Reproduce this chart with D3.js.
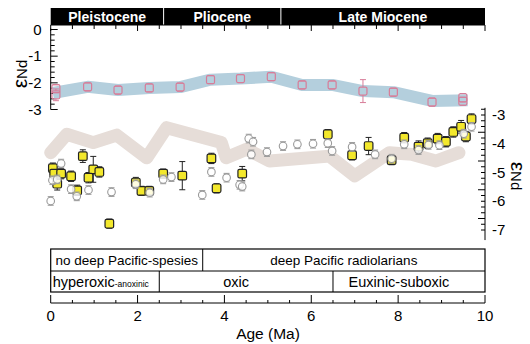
<!DOCTYPE html>
<html>
<head>
<meta charset="utf-8">
<script src="https://cdn.jsdelivr.net/npm/d3@7"></script>
<style>
  body { margin: 0; background: #fff; }
  svg text { font-family: "Liberation Sans", Arial, sans-serif; }
</style>
</head>
<body>
<svg id="chart" width="530" height="344"></svg>
<script>
// ---- data ----
var epochNames = ["Pleistocene", "Pliocene", "Late Miocene"];
var epochBounds = [0, 2.6, 5.3, 10];

// upper record (left axis), pink open squares
var upAge = [0.12, 0.12, 0.85, 1.55, 2.27, 2.98, 3.68, 4.37, 5.08, 5.79, 6.48, 7.19, 7.89, 8.78, 9.49, 9.49];
var upNd  = [-2.22, -2.45, -2.15, -2.27, -2.19, -2.16, -1.88, -1.84, -1.77, -2.08, -2.08, -2.31, -2.35, -2.72, -2.56, -2.69];
var upErr = [0.12, 0.22, 0.1, 0.1, 0.1, 0.1, 0.1, 0.1, 0.08, 0.1, 0.1, 0.43, 0.1, 0.12, 0.16, 0.07];
// blue band through the upper record
var upBandAge = [0.05, 0.85, 1.55, 2.27, 2.98, 3.68, 4.37, 5.08, 5.79, 6.48, 7.19, 7.89, 8.78, 9.6];
var upBandNd  = [-2.38, -2.15, -2.27, -2.19, -2.16, -1.88, -1.84, -1.77, -2.08, -2.08, -2.31, -2.35, -2.68, -2.65];

// beige band (right axis)
var lowBandAge = [0.0, 0.37, 0.98, 1.52, 2.21, 2.67, 3.93, 4.04, 4.51, 5.04, 6.42, 7.0, 7.8, 8.33, 8.87, 9.4];
var lowBandNd  = [-4.31, -3.67, -3.96, -3.70, -4.49, -3.44, -3.96, -4.49, -4.19, -4.60, -4.43, -5.12, -4.31, -4.37, -4.60, -4.31];

// yellow squares (right axis)
var sqAge = [0.05, 0.08, 0.24, 0.15, 0.47, 0.61, 0.74, 0.98, 0.87, 1.12, 1.35, 1.96, 2.09, 2.27, 2.59, 3.03, 3.70, 3.82, 4.41, 6.38, 6.94, 7.32, 7.85, 8.14, 8.47, 8.68, 8.91, 9.10, 9.27, 9.45, 9.56, 9.69];
var sqNd  = [-4.85, -5.04, -5.04, -5.39, -5.13, -5.62, -4.43, -4.89, -5.18, -4.98, -6.78, -5.35, -5.64, -5.64, -5.04, -5.11, -4.51, -5.55, -5.04, -3.67, -4.40, -4.08, -4.57, -3.79, -4.10, -3.98, -3.82, -3.93, -3.59, -3.41, -3.75, -3.14];
var sqErr = [0.18, 0.18, 0.18, 0.22, 0.18, 0.18, 0.22, 0.45, 0.18, 0.18, 0.16, 0.18, 0.16, 0.16, 0.16, 0.49, 0.18, 0.16, 0.25, 0.16, 0.16, 0.3, 0.16, 0.18, 0.2, 0.18, 0.18, 0.18, 0.18, 0.22, 0.18, 0.18];

// grey open circles (right axis)
var ciAge = [0.24, 0.04, 0.15, 0.0, 0.47, 0.60, 0.87, 1.40, 1.96, 2.28, 2.59, 2.78, 3.49, 3.70, 4.05, 4.35, 4.41, 4.56, 4.66, 4.62, 4.98, 5.35, 5.68, 6.04, 6.38, 6.48, 6.94, 7.47, 7.85, 8.14, 8.47, 8.70, 8.95, 9.51, 9.69];
var ciNd  = [-4.69, -5.27, -5.24, -5.99, -5.58, -5.83, -5.61, -5.68, -5.41, -5.70, -5.24, -5.16, -5.78, -4.98, -5.18, -5.43, -5.49, -3.82, -3.93, -4.37, -4.29, -4.08, -4.02, -4.00, -3.98, -4.25, -4.11, -4.37, -4.52, -4.02, -4.22, -4.04, -4.05, -3.65, -3.41];

// fauna / redox boxes
var faunaNames = ["no deep Pacific-spesies", "deep Pacific radiolarians"];
var faunaBounds = [0, 3.5, 10];
var redoxNames = ["oxic", "Euxinic-suboxic"];
var redoxBounds = [0, 2.5, 6.5, 10];

// ---- layout ----
var svg = d3.select("#chart");
var x = d3.scaleLinear().domain([0, 10]).range([50.7, 485]);
var yL = d3.scaleLinear().domain([0, -3]).range([29.5, 109.5]);
var yR = d3.scaleLinear().domain([-3, -7]).range([115, 230]);

var pink = "#d77c98", yellow = "#f3e82c", grey = "#9a9a9a";

// top epoch bar
svg.append("rect").attr("x", x(0)).attr("y", 8).attr("width", x(10) - x(0)).attr("height", 17).attr("fill", "#000");
epochNames.forEach(function (n, i) {
    if (i > 0) {
        svg.append("line").attr("x1", x(epochBounds[i])).attr("x2", x(epochBounds[i]))
            .attr("y1", 8).attr("y2", 25).attr("stroke", "#fff").attr("stroke-width", 1);
    }
    svg.append("text").attr("x", (x(epochBounds[i]) + x(epochBounds[i + 1])) / 2).attr("y", 21.5)
        .attr("text-anchor", "middle").attr("font-size", "14px").attr("font-weight", "bold")
        .attr("fill", "#fff").text(n);
});

// top axis (ticks downward)
var topAx = svg.append("g").attr("transform", "translate(0,25)");
topAx.append("line").attr("x1", x(0)).attr("x2", x(10)).attr("stroke", "#000");
topAx.selectAll(".tt").data(d3.range(0, 10.01, 0.5)).enter().append("line")
    .attr("x1", d => x(d)).attr("x2", d => x(d))
    .attr("y1", 0).attr("y2", d => d % 2 === 0 ? 6 : 4)
    .attr("stroke", "#000").attr("stroke-width", 1);

// left axis
var leftAx = svg.append("g").attr("transform", "translate(" + x(0) + ",0)");
leftAx.append("line").attr("y1", yL(0) - 1).attr("y2", yL(-3)).attr("stroke", "#000");
leftAx.selectAll(".lt").data(d3.range(0, 16)).enter().append("line")
    .attr("x1", 0).attr("x2", d => d % 5 === 0 ? 7 : 4)
    .attr("y1", d => yL(-d * 0.2)).attr("y2", d => yL(-d * 0.2))
    .attr("stroke", "#000");
leftAx.selectAll(".ll").data([0, -1, -2, -3]).enter().append("text")
    .attr("x", -9).attr("y", d => yL(d) + 5).attr("text-anchor", "end")
    .attr("font-size", "15px").text(d => d === 0 ? "0" : "-" + Math.abs(d));
svg.append("text").attr("transform", "translate(27,74) rotate(-90)")
    .attr("text-anchor", "middle").attr("font-size", "15px")
    .html('<tspan font-size="21px">ε</tspan>Nd');

// right axis
var rightAx = svg.append("g").attr("transform", "translate(" + x(10) + ",0)");
rightAx.append("line").attr("y1", yR(-2.75)).attr("y2", yR(-7.35)).attr("stroke", "#000");
rightAx.selectAll(".rt").data(d3.range(0, 22)).enter().append("line")
    .attr("x1", 0).attr("x2", d => (d + 1) % 5 === 0 ? -7 : -4)
    .attr("y1", d => yR(-2.8 - d * 0.2)).attr("y2", d => yR(-2.8 - d * 0.2))
    .attr("stroke", "#000");
rightAx.selectAll(".rl").data([-3, -4, -5, -6, -7]).enter().append("text")
    .attr("x", 7).attr("y", d => yR(d) + 5).attr("font-size", "15px").text(d => "-" + Math.abs(d));
svg.append("text").attr("transform", "translate(511,176) rotate(90)")
    .attr("text-anchor", "middle").attr("font-size", "15px")
    .html('<tspan font-size="21px">ε</tspan>Nd');

// bands
svg.append("path").datum(upBandAge.map((a, i) => [a, upBandNd[i]]))
    .attr("d", d3.line().x(d => x(d[0])).y(d => yL(d[1])))
    .attr("fill", "none").attr("stroke", "#b4cfdd").attr("stroke-width", 12).attr("stroke-linejoin", "round");
svg.append("path").datum(lowBandAge.map((a, i) => [a, lowBandNd[i]]))
    .attr("d", d3.line().x(d => x(d[0])).y(d => yR(d[1])))
    .attr("fill", "none").attr("stroke", "#e6ddd8").attr("stroke-width", 13)
    .attr("stroke-linejoin", "round").attr("stroke-linecap", "round");

// whiskers drawn outside the marker only
function errBars(g, ages, vals, errs, y, col, half) {
    ages.forEach(function (a, i) {
        var e = errs ? errs[i] : 0.15;
        var cy = y(vals[i]);
        var t = Math.min(y(vals[i] + e), cy - half), b = Math.max(y(vals[i] - e), cy + half);
        g.append("line").attr("x1", x(a)).attr("x2", x(a)).attr("y1", t).attr("y2", cy - half).attr("stroke", col);
        g.append("line").attr("x1", x(a)).attr("x2", x(a)).attr("y1", cy + half).attr("y2", b).attr("stroke", col);
        [t, b].forEach(function (yy) {
            g.append("line").attr("x1", x(a) - 3).attr("x2", x(a) + 3).attr("y1", yy).attr("y2", yy).attr("stroke", col);
        });
    });
}

// upper pink points
var gUp = svg.append("g");
errBars(gUp, upAge, upNd, upErr, yL, pink, 4);
gUp.selectAll("rect").data(upAge).enter().append("rect")
    .attr("x", d => x(d) - 4).attr("y", (d, i) => yL(upNd[i]) - 4)
    .attr("width", 8).attr("height", 8).attr("rx", 1.5)
    .attr("fill", "none").attr("stroke", pink).attr("stroke-width", 1.2);

// yellow squares
var gSq = svg.append("g");
errBars(gSq, sqAge, sqNd, sqErr, yR, "#222", 4.3);
gSq.selectAll("rect").data(sqAge).enter().append("rect")
    .attr("x", d => x(d) - 4.3).attr("y", (d, i) => yR(sqNd[i]) - 4.3)
    .attr("width", 8.6).attr("height", 8.6).attr("rx", 1.5)
    .attr("fill", yellow).attr("stroke", "#222").attr("stroke-width", 1.2);

// grey circles
var gCi = svg.append("g");
errBars(gCi, ciAge, ciNd, null, yR, grey, 3.8);
gCi.selectAll("circle").data(ciAge).enter().append("circle")
    .attr("cx", d => x(d)).attr("cy", (d, i) => yR(ciNd[i])).attr("r", 3.8)
    .attr("fill", "#fff").attr("fill-opacity", 0.85).attr("stroke", grey).attr("stroke-width", 1.1);

// boxes below
var boxTop = 249, boxMid = 271, boxBot = 292;
svg.append("rect").attr("x", x(0)).attr("y", boxTop).attr("width", x(10) - x(0)).attr("height", boxBot - boxTop)
    .attr("fill", "none").attr("stroke", "#000").attr("stroke-width", 1.2);
svg.append("line").attr("x1", x(0)).attr("x2", x(10)).attr("y1", boxMid).attr("y2", boxMid).attr("stroke", "#000");
svg.append("line").attr("x1", x(faunaBounds[1])).attr("x2", x(faunaBounds[1])).attr("y1", boxTop).attr("y2", boxMid).attr("stroke", "#000");
faunaNames.forEach(function (n, i) {
    svg.append("text").attr("x", (x(faunaBounds[i]) + x(faunaBounds[i + 1])) / 2).attr("y", 265)
        .attr("text-anchor", "middle").attr("font-size", "13.5px").text(n);
});
[1, 2].forEach(function (i) {
    svg.append("line").attr("x1", x(redoxBounds[i])).attr("x2", x(redoxBounds[i])).attr("y1", boxMid).attr("y2", boxBot).attr("stroke", "#000");
});
svg.append("text").attr("x", x(0) + 2).attr("y", 287).attr("font-size", "14.5px")
    .html('hyperoxic<tspan font-size="8.5px">-anoxinic</tspan>');
redoxNames.forEach(function (n, i) {
    svg.append("text").attr("x", (x(redoxBounds[i + 1]) + x(redoxBounds[i + 2])) / 2 - 10).attr("y", 287)
        .attr("text-anchor", "middle").attr("font-size", "14.5px").text(n);
});

// bottom axis
var botAx = svg.append("g").attr("transform", "translate(0,303)");
botAx.append("line").attr("x1", x(0)).attr("x2", x(10)).attr("stroke", "#000");
botAx.selectAll(".bt").data(d3.range(0, 10.01, 0.5)).enter().append("line")
    .attr("x1", d => x(d)).attr("x2", d => x(d))
    .attr("y1", 0).attr("y2", d => d % 2 === 0 ? -8 : -3)
    .attr("stroke", "#000");
botAx.selectAll(".bl").data([0, 2, 4, 6, 8, 10]).enter().append("text")
    .attr("x", d => x(d)).attr("y", 18).attr("text-anchor", "middle")
    .attr("font-size", "15px").text(d => d);
svg.append("text").attr("x", 268).attr("y", 339).attr("text-anchor", "middle")
    .attr("font-size", "15.5px").text("Age (Ma)");
</script>
</body>
</html>
